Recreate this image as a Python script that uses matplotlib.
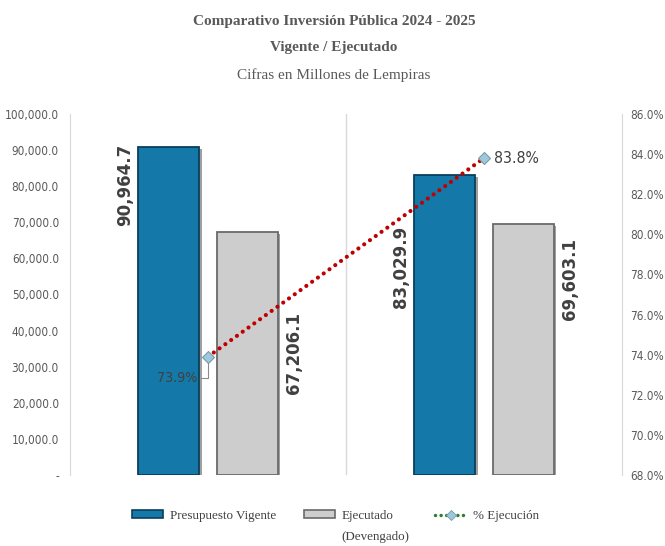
import matplotlib
matplotlib.use('Agg')
import matplotlib.pyplot as plt
from matplotlib.patches import Patch
from matplotlib.lines import Line2D
from matplotlib.ticker import FixedLocator
from matplotlib.font_manager import FontProperties, fontManager
import matplotlib.patheffects as pe
import numpy as np

# ---- data ----
years = ['2024', '2025']
vigente = [90964.7, 83029.9]
ejecutado = [67206.1, 69603.1]
pct_ejec = [73.9, 83.8]
left_ticks = [0, 10000, 20000, 30000, 40000, 50000, 60000, 70000, 80000, 90000, 100000]
right_ticks = [68, 70, 72, 74, 76, 78, 80, 82, 84, 86]
series_labels = ['Presupuesto Vigente', 'Ejecutado', '% Ejecución']
title1 = 'Comparativo Inversión Pública 2024 - 2025'
title2 = 'Vigente / Ejecutado'
title3 = 'Cifras en Millones de Lempiras'

# label placement (fraction of bar height) - style only
lab_frac_vig = [0.883, 0.694]
lab_frac_eje = [0.503, 0.78]


def pick_narrow():
    bad = ('bold', 'italic', 'oblique', 'serif', 'mono', 'thin', 'black', 'medium',
           'semibold', 'extra', 'heavy')
    pref = []
    for f in fontManager.ttflist:
        fn = f.fname.lower().split('/')[-1]
        if ('narrow' in fn or 'condensed' in fn) and not any(b in fn for b in bad):
            pref.append(f.fname)
    pref.sort(key=lambda p: ('light' in p.lower(), len(p)))
    return pref[0] if pref else None


narrow_path = pick_narrow()


def nfont(size):
    if narrow_path:
        return FontProperties(fname=narrow_path, size=size)
    return FontProperties(family='Liberation Sans', size=size * 0.88)


W, H = 665, 546
fig = plt.figure(figsize=(W / 100, H / 100), dpi=100)
ax = fig.add_axes([70 / W, 1 - 475 / H, (622 - 70) / W, (475 - 114) / H])

SERIF = ['Liberation Serif', 'DejaVu Serif']
TXT = '#595959'

x = np.arange(len(years))
off, w = 0.143, 0.224
blue, blue_edge = '#1479a8', '#0a3f5c'
gray, gray_edge = '#cdcdcd', '#6a6a6a'
shadow = [pe.SimplePatchShadow(offset=(1.5, -1.5), shadow_rgbFace='#404040', alpha=0.5), pe.Normal()]
bars1 = ax.bar(x - off, vigente, w, color=blue, edgecolor=blue_edge, linewidth=1.3, zorder=3)
bars2 = ax.bar(x + off, ejecutado, w, color=gray, edgecolor=gray_edge, linewidth=1.3, zorder=3)
for b in list(bars1) + list(bars2):
    b.set_path_effects(shadow)

ax.set_xlim(-0.5, 1.5)
ax.set_ylim(0, 100000)
ax.set_yticks(left_ticks)
ax.set_yticklabels(['-' if v == 0 else f'{v:,.1f}' for v in left_ticks], color=TXT)
for t in ax.get_yticklabels():
    t.set_fontproperties(nfont(8.5))
ax.set_xticks([])
ax.xaxis.set_minor_locator(FixedLocator([0.5]))
ax.grid(which='minor', axis='x', color='#d9d9d9', linewidth=1)
ax.tick_params(which='both', length=0)
ax.tick_params(axis='y', pad=8)
for s in ['top', 'bottom', 'right']:
    ax.spines[s].set_visible(False)
ax.spines['left'].set_color('#d9d9d9')

for i in range(len(years)):
    ax.text(x[i] - 0.30, vigente[i] * lab_frac_vig[i], f'{vigente[i]:,.1f}', rotation=90,
            ha='center', va='center', fontsize=12, fontweight='bold', color='#404040',
            family='DejaVu Sans', zorder=5)
    ax.text(x[i] + 0.31, ejecutado[i] * lab_frac_eje[i], f'{ejecutado[i]:,.1f}', rotation=90,
            ha='center', va='center', fontsize=12, fontweight='bold', color='#404040',
            family='DejaVu Sans', zorder=5)

ax2 = ax.twinx()
ax2.set_ylim(68, 86)
ax2.set_yticks(right_ticks)
ax2.set_yticklabels([f'{v:.1f}%' for v in right_ticks], color=TXT)
for t in ax2.get_yticklabels():
    t.set_fontproperties(nfont(8.5))
ax2.tick_params(length=0, pad=6)
for s in ['top', 'bottom', 'left']:
    ax2.spines[s].set_visible(False)
ax2.spines['right'].set_color('#d9d9d9')

line_color = '#c00000'
ax2.plot(x, pct_ejec, color=line_color, lw=3, linestyle=(0, (0.01, 1.7)),
         dash_capstyle='round', zorder=4)
ax2.plot(x, pct_ejec, linestyle='none', marker='D', ms=6, mfc='#9cc9db', mec='#7a9aa8',
         mew=0.8, zorder=5)

ax2.annotate(f'{pct_ejec[0]:.1f}%', xy=(x[0], pct_ejec[0]), xytext=(-8, -15),
             textcoords='offset points', ha='right', va='center',
             fontproperties=nfont(10.2), color='#404040',
             arrowprops=dict(arrowstyle='-', color='#8c8c8c', lw=0.8, shrinkA=1, shrinkB=4,
                             connectionstyle='angle,angleA=0,angleB=90,rad=0'))
ax2.annotate(f'{pct_ejec[1]:.1f}%', xy=(x[1], pct_ejec[1]), xytext=(7, 0),
             textcoords='offset points', ha='left', va='center',
             fontproperties=nfont(11.3), color='#404040')

# titles
cx = 334 / W
fig.text(cx, 1 - 21 / H, title1, ha='center', va='center', fontsize=11,
         fontweight='bold', family=SERIF, color=TXT)
fig.text(cx, 1 - 48 / H, title2, ha='center', va='center', fontsize=11,
         fontweight='bold', family=SERIF, color=TXT)
fig.text(cx, 1 - 75 / H, title3, ha='center', va='center', fontsize=11,
         family=SERIF, color=TXT)

# legend (three single-entry legends placed side by side)
lprop = dict(family=SERIF, size=9.4)
h1 = Patch(facecolor=blue, edgecolor=blue_edge, linewidth=1.2)
h2 = Patch(facecolor=gray, edgecolor=gray_edge, linewidth=1.2)
h3 = Line2D([], [], color='#2e7d32', lw=2.5, linestyle=(0, (0.01, 1.6)), dash_capstyle='round',
            marker='D', ms=5, mfc='#9cc9db', mec='#7a9aa8', mew=0.6)
ly = 1 - 516 / H
common = dict(loc='center left', frameon=False, borderpad=0, borderaxespad=0,
              handlelength=2.4, handleheight=0.55, handletextpad=0.5, prop=lprop,
              labelcolor='#404040')
leg1 = fig.legend([h1], [series_labels[0]], bbox_to_anchor=(132 / W, ly), **common)
leg2 = fig.legend([h2], [series_labels[1]], bbox_to_anchor=(304 / W, ly), **common)
leg3 = fig.legend([h3], [series_labels[2]], bbox_to_anchor=(435 / W, ly), **common)

fig.canvas.draw()
bb = leg2.get_texts()[0].get_window_extent()
fig.text(bb.x0 / W, 1 - 537 / H, '(Devengado)', ha='left', va='center',
         family=SERIF, fontsize=9.4, color='#404040')

fig.savefig('out.png', dpi=100, facecolor='white')
